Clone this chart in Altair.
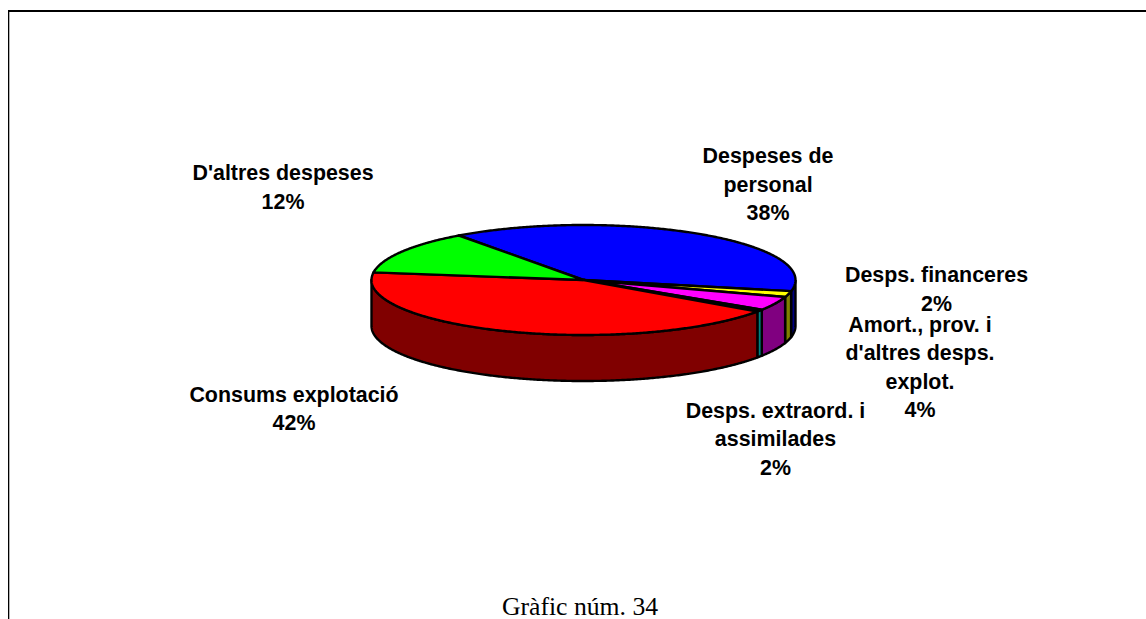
import math
import altair as alt
import pandas as pd

# --- chart values ---
slice_names = ["Despeses de personal", "Desps. financeres", "Amort., prov. i d'altres desps. explot.",
               "Desps. extraord. i assimilades", "Consums explotació", "D'altres despeses"]
slice_shares = [38.25, 1.75, 4.1, 0.6, 42.5, 12.8]
top_colors = ["#0000ff", "#ffff00", "#ff00ff", "#00ffff", "#ff0000", "#00ff00"]
wall_colors = ["#000080", "#808000", "#800080", "#008080", "#800000", "#008000"]
label_lines = [["Despeses de", "personal", "38%"], ["Desps. financeres", "2%"],
               ["Amort., prov. i", "d'altres desps.", "explot.", "4%"],
               ["Desps. extraord. i", "assimilades", "2%"],
               ["Consums explotació", "42%"], ["D'altres despeses", "12%"]]
footer = "Gràfic núm. 34"

# --- layout ---
W, H = 1138, 611
CX, CY, RX, RY, DEPTH = 583.5, 280, 212, 55, 46
START_DEG = 126
label_xy = [(768, 163), (936.5, 282), (920, 331.5), (775.5, 417.5), (294, 401.5), (283, 180)]

X = alt.X("x:Q", scale=alt.Scale(domain=[8, 8 + W]), axis=None)
Y = alt.Y("y:Q", scale=alt.Scale(domain=[8 + H, 8]), axis=None)


def ell(t_deg, dy=0.0):
    t = math.radians(t_deg)
    return CX + RX * math.cos(t), CY - RY * math.sin(t) + dy


def arc(a, b, dy=0.0):
    n = max(2, int(abs(a - b) * 2))
    return [ell(a + (b - a) * i / n, dy) for i in range(n + 1)]


def poly(points, fill):
    pts = points + [points[0]]
    df = pd.DataFrame({"x": [p[0] for p in pts], "y": [p[1] for p in pts],
                       "i": list(range(len(pts))), "c": fill})
    return alt.Chart(df).mark_line(stroke="black", strokeWidth=2.4, strokeJoin="round", interpolate="linear").encode(
        x=X, y=Y, order="i:Q", fill=alt.Fill("c:N", scale=None, legend=None))


# slice boundaries, clockwise from the start angle
bounds = []
a = START_DEG
for s in slice_shares:
    bounds.append((a, a - s * 3.6))
    a -= s * 3.6

walls, tops = [], []
for (a, b), tc, wc in zip(bounds, top_colors, wall_colors):
    # the visible part of the wall is the front half, parametric angle in [-180, 0]
    vis = []
    for shift in (0, -360):
        l2 = max(b + shift, -180)
        h2 = min(a + shift, 0)
        if l2 < h2:
            vis.append((l2, h2))
    for l2, h2 in vis:
        walls.append(poly(arc(h2, l2) + arc(l2, h2, DEPTH), wc))
    tops.append(poly([(CX, CY)] + arc(a, b), tc))

# frame: left and top edges only
frame = pd.DataFrame({"x": [8.3, 8.3, 1146], "y": [619, 11, 11], "i": [0, 1, 2]})
frame_layer = alt.Chart(frame).mark_line(color="black", strokeWidth=2).encode(x=X, y=Y, order="i:Q")

texts = []
for lines, (lx, ly) in zip(label_lines, label_xy):
    tdf = pd.DataFrame({"x": [lx], "y": [ly], "t": [lines]})
    texts.append(alt.Chart(tdf).mark_text(font="Liberation Sans", fontWeight="bold", fontSize=21.4, lineHeight=28.5,
                                          align="center", baseline="alphabetic", color="black").encode(x=X, y=Y, text="t:N"))
foot_df = pd.DataFrame({"x": [580], "y": [615], "t": [footer]})
foot = alt.Chart(foot_df).mark_text(font="Liberation Serif", fontSize=25.7, align="center", baseline="alphabetic",
                                    color="black").encode(x=X, y=Y, text="t:N")

chart = alt.layer(frame_layer, *walls, *tops, *texts, foot).properties(
    width=W, height=H, padding=0, autosize=alt.AutoSizeParams(type="none"), background="white"
).configure_view(stroke=None)

chart.save("out.html", embed_options={"renderer": "svg", "actions": False,
                                      "defaultStyle": "body{margin:8px 0 0 8px}.vega-embed{display:block}svg{display:block}"})
